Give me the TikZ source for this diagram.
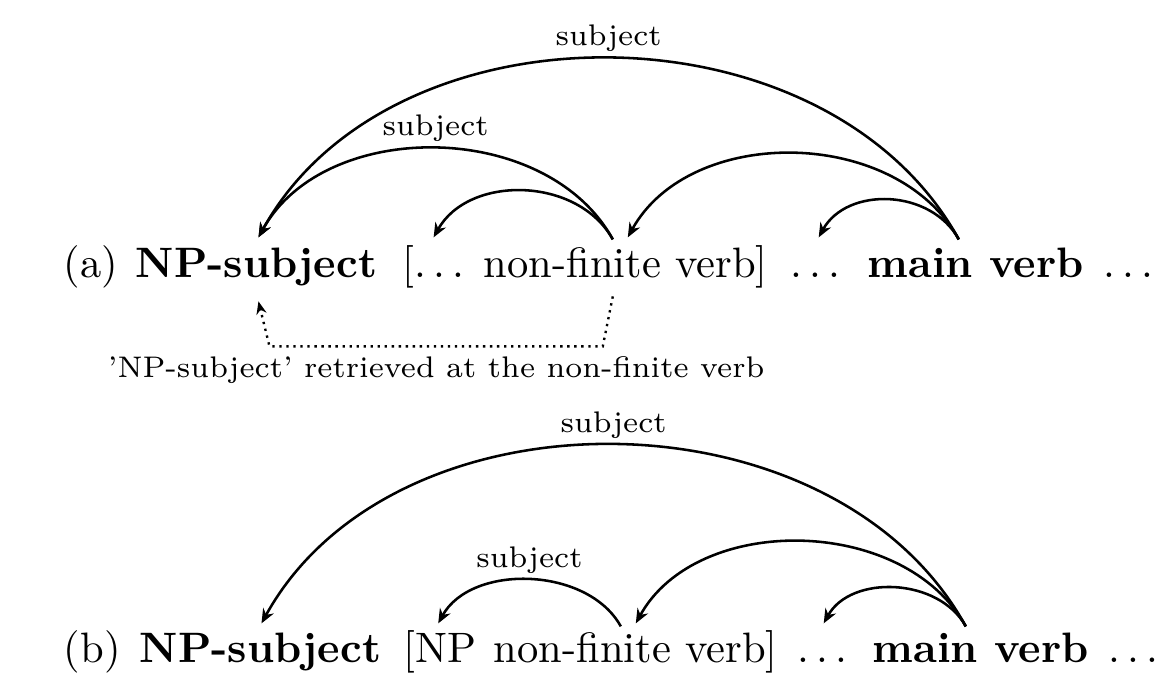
\documentclass[tikz,border=0pt]{standalone}
\usetikzlibrary{arrows.meta,calc}
\newcommand\mydots{.\kern.1667em.\kern.1667em.}
\begin{document}
\begin{tikzpicture}[x=0.235pt,y=-0.235pt,
  word/.style={anchor=base west,inner sep=0pt,text height=0.7em,text depth=0.2em},
  dep/.style={line width=0.6pt,-{Stealth[length=3.4pt,width=2.8pt]}},
  deplabel/.style={font=\scriptsize,above,inner sep=1.2pt},
  retr/.style={line width=0.55pt,dash pattern=on 0.55pt off 1.1pt,-{Stealth[length=3pt,width=2.4pt]}},
]
\useasboundingbox (0,0) rectangle (1155,676);
% ---------- line (a)
\node[word] (la) at (63,277) {(a)};
\node[word] (anp) at (135,277) {\textbf{NP-subject}};
\node[word] (alb) at (402,277) {[\mydots};
\node[word] (anf) at (483,277) {non-finite verb]};
\node[word] (ad1) at (790,277) {\mydots};
\node[word] (amv) at (867,277) {\textbf{main verb}};
\node[word] (ad2) at (1103,277) {\mydots};
% arcs (a)
\draw[dep] ($(amv.north)+(-17,-7)$) .. controls +(-132,-240) and +(132,-240) .. ($(anp.north)+(2,-9)$) node[deplabel,pos=0.5] {subject};
\draw[dep] ($(anf.north)+(-13,-7)$) .. controls +(-66,-120) and +(66,-120) .. ($(anp.north)+(2,-9)$) node[deplabel,pos=0.5] {subject};
\draw[dep] ($(anf.north)+(-13,-7)$) .. controls +(-35,-63) and +(35,-63) .. ($(alb.north)+(0,-9)$);
\draw[dep] ($(amv.north)+(-17,-7)$) .. controls +(-62,-113) and +(62,-113) .. ($(anf.north)+(2,-9)$);
\draw[dep] ($(amv.north)+(-17,-7)$) .. controls +(-28,-51) and +(28,-51) .. ($(ad1.north)+(3,-9)$);
% retrieval (a)
\coordinate (ds) at ($(anf.south)+(-13,10)$);
\coordinate (dc1) at ($(anf.south)+(-23,60)$);
\coordinate (dc2) at ($(anp.south)+(13,60)$);
\coordinate (dt) at ($(anp.south)+(2,15)$);
\draw[retr] (ds) -- (dc1) -- (dc2) node[midway,below,font=\scriptsize,inner sep=2pt] {'NP-subject' retrieved at the non-finite verb} -- (dt);
% ---------- line (b)
\node[word] (lb) at (63,662) {(b)};
\node[word] (bnp) at (139,662) {\textbf{NP-subject}};
\node[word] (blb) at (403,662) {[NP};
\node[word] (bnf) at (493,662) {non-finite verb]};
\node[word] (bd1) at (797,662) {\mydots};
\node[word] (bmv) at (872,662) {\textbf{main verb}};
\node[word] (bd2) at (1108,662) {\mydots};
% arcs (b)
\draw[dep] ($(bmv.north)+(-15,-5)$) .. controls +(-132,-240) and +(132,-240) .. ($(bnp.north)+(1,-8)$) node[deplabel,pos=0.5] {subject};
\draw[dep] ($(bnf.north)+(-15,-5)$) .. controls +(-33,-60) and +(33,-60) .. ($(blb.north)+(-2,-8)$) node[deplabel,pos=0.5] {subject};
\draw[dep] ($(bmv.north)+(-15,-5)$) .. controls +(-61,-111) and +(61,-111) .. ($(bnf.north)+(0,-8)$);
\draw[dep] ($(bmv.north)+(-15,-5)$) .. controls +(-27,-49) and +(27,-49) .. ($(bd1.north)+(1,-8)$);
\end{tikzpicture}
\end{document}
